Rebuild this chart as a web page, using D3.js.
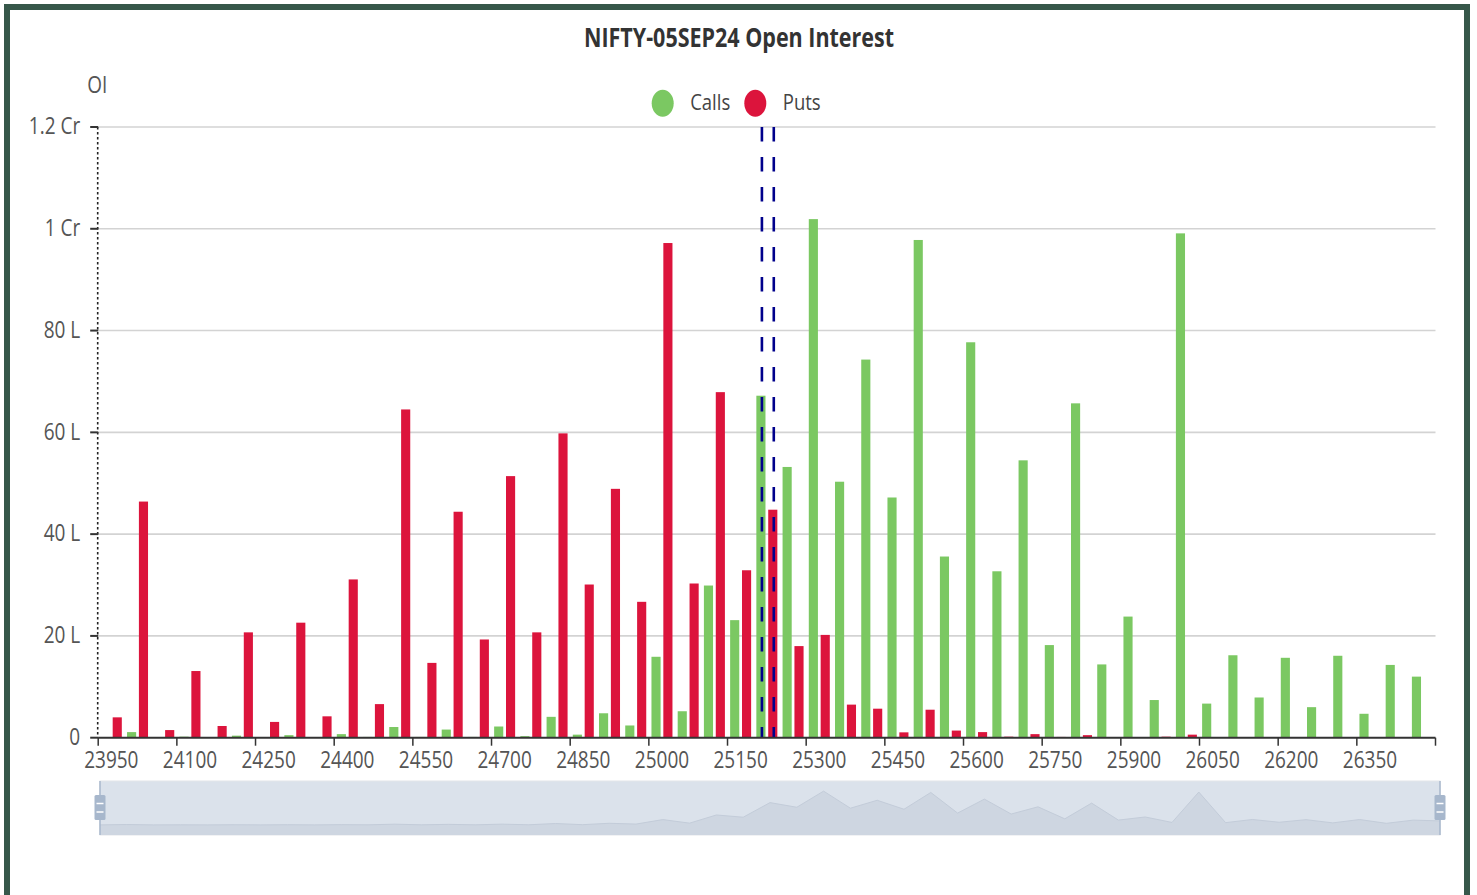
<!DOCTYPE html>
<html>
<head>
<meta charset="utf-8">
<script src="https://cdn.jsdelivr.net/npm/d3@7/dist/d3.min.js"></script>
<style>
  body { margin: 0; background: #fff; }
  text { font-family: "Open Sans", sans-serif; }
</style>
</head>
<body>
<div id="chart"></div>
<script>
// Strike prices (x categories)
const strikes = [23950, 24000, 24050, 24100, 24150, 24200, 24250, 24300, 24350, 24400,
  24450, 24500, 24550, 24600, 24650, 24700, 24750, 24800, 24850, 24900,
  24950, 25000, 25050, 25100, 25150, 25200, 25250, 25300, 25350, 25400,
  25450, 25500, 25550, 25600, 25650, 25700, 25750, 25800, 25850, 25900,
  25950, 26000, 26050, 26100, 26150, 26200, 26250, 26300, 26350, 26400, 26450];

// Open interest in lakhs
const callsOI = [0, 1.1, 0, 0.2, 0, 0.4, 0, 0.5, 0, 0.7,
  0.15, 2.1, 0.15, 1.6, 0.15, 2.2, 0.3, 4.1, 0.6, 4.8,
  2.4, 15.9, 5.2, 29.9, 23.1, 67.2, 53.2, 101.9, 50.3, 74.3,
  47.2, 97.8, 35.6, 77.7, 32.7, 54.5, 18.2, 65.7, 14.4, 23.8,
  7.4, 99.1, 6.7, 16.2, 7.9, 15.7, 6.0, 16.1, 4.7, 14.3, 12.0];

const putsOI = [4.0, 46.4, 1.5, 13.1, 2.3, 20.7, 3.1, 22.6, 4.2, 31.1,
  6.6, 64.5, 14.7, 44.4, 19.3, 51.4, 20.7, 59.8, 30.1, 48.9,
  26.7, 97.2, 30.3, 67.9, 32.9, 44.8, 18.0, 20.2, 6.5, 5.7,
  1.05, 5.5, 1.4, 1.1, 0.2, 0.7, 0.15, 0.5, 0.1, 0.1,
  0.2, 0.6, 0, 0.1, 0, 0, 0, 0, 0, 0, 0];

const yTicks = [0, 20, 40, 60, 80, 100, 120];
const seriesNames = ["Calls", "Puts"];
const seriesColors = ["#7bc862", "#dc143c"];
const atmStrike = 25200;
const chartTitle = "NIFTY-05SEP24 Open Interest";

const W = 1477, H = 895;
const stretch = 1.22;   // the picture is stretched vertically
const plot = {left: 98.2, right: 1435.5, top: 127, bottom: 737.7};

const svg = d3.select("#chart")
    .append("svg")
    .attr("width", W)
    .attr("height", H);

svg.append("rect").attr("width", W).attr("height", H).attr("fill", "#fff");

// text helper: stretched vertically like the reference
function addText(g, x, y, str, size, anchor, color, weight) {
    return g.append("text")
        .attr("transform", `translate(${x},${y}) scale(1,${stretch})`)
        .attr("text-anchor", anchor || "start")
        .attr("font-size", size)
        .attr("font-weight", weight || "normal")
        .attr("fill", color || "#555")
        .text(str);
}

// Scales
const xScale = d3.scaleBand()
    .domain(strikes)
    .range([plot.left, plot.right])
    .padding(0);

const subScale = d3.scaleBand()
    .domain(seriesNames)
    .range([0, xScale.bandwidth()])
    .paddingInner(0.231)
    .paddingOuter(0.22);

const yScale = d3.scaleLinear()
    .domain([0, 120])
    .range([plot.bottom, plot.top]);

const fmtY = v => v === 0 ? "0" : (v >= 100 ? (v / 100) + " Cr" : v + " L");

// Gridlines
svg.append("g")
    .selectAll("line")
    .data(yTicks.slice(1))
    .join("line")
    .attr("x1", plot.left)
    .attr("x2", plot.right)
    .attr("y1", d => yScale(d))
    .attr("y2", d => yScale(d))
    .attr("stroke", "#d3d3d3")
    .attr("stroke-width", 1.6);

// Y axis (dotted line, ticks, labels)
svg.append("line")
    .attr("x1", plot.left - 0.5).attr("x2", plot.left - 0.5)
    .attr("y1", plot.top).attr("y2", plot.bottom)
    .attr("stroke", "#222")
    .attr("stroke-width", 1.6)
    .attr("stroke-dasharray", "2.5,2.5");

const yAxisG = svg.append("g");
yAxisG.selectAll("line")
    .data(yTicks)
    .join("line")
    .attr("x1", plot.left - 8)
    .attr("x2", plot.left)
    .attr("y1", d => yScale(d))
    .attr("y2", d => yScale(d))
    .attr("stroke", "#333")
    .attr("stroke-width", 2);

yTicks.forEach(t => {
    addText(yAxisG, plot.left - 18, yScale(t) - 1, fmtY(t), 19, "end", "#555")
        .attr("dy", "0.36em");
});

addText(svg, plot.left - 1, 93, "OI", 19, "middle", "#555");

// Bars
const barGroups = svg.append("g")
    .selectAll("g")
    .data(strikes)
    .join("g")
    .attr("transform", d => `translate(${xScale(d)},0)`);

barGroups.selectAll("rect")
    .data((d, i) => [
        {name: seriesNames[0], value: callsOI[i], color: seriesColors[0]},
        {name: seriesNames[1], value: putsOI[i], color: seriesColors[1]}
    ])
    .join("rect")
    .attr("x", d => subScale(d.name))
    .attr("y", d => yScale(d.value))
    .attr("width", subScale.bandwidth())
    .attr("height", d => plot.bottom - yScale(d.value))
    .attr("fill", d => d.color);

// ATM markers (dashed)
svg.append("g")
    .selectAll("line")
    .data(seriesNames)
    .join("line")
    .attr("x1", d => xScale(atmStrike) + subScale(d) + subScale.bandwidth() / 2 + 1)
    .attr("x2", d => xScale(atmStrike) + subScale(d) + subScale.bandwidth() / 2 + 1)
    .attr("y1", plot.top)
    .attr("y2", plot.bottom)
    .attr("stroke", "#00008b")
    .attr("stroke-width", 2.6)
    .attr("stroke-dasharray", "14.5,15.5");

// X axis
const xAxisG = svg.append("g");
xAxisG.append("line")
    .attr("x1", plot.left).attr("x2", plot.right)
    .attr("y1", plot.bottom).attr("y2", plot.bottom)
    .attr("stroke", "#333")
    .attr("stroke-width", 2);

const labelIdx = strikes.map((s, i) => i).filter(i => i % 3 === 0);
const tickPos = labelIdx.map(i => xScale(strikes[i])).concat([plot.right]);

xAxisG.selectAll(".tick")
    .data(tickPos)
    .join("line")
    .attr("class", "tick")
    .attr("x1", d => d).attr("x2", d => d)
    .attr("y1", plot.bottom).attr("y2", plot.bottom + 8)
    .attr("stroke", "#333")
    .attr("stroke-width", 1.5);

labelIdx.forEach(i => {
    addText(xAxisG, xScale(strikes[i]) + xScale.bandwidth() / 2, plot.bottom + 30.6,
        strikes[i], 19, "middle", "#555");
});

// Title
addText(svg, 739, 46.7, chartTitle, 21.5, "middle", "#333", "bold");

// Legend
const legendX = [662.7, 755.3];
seriesNames.forEach((name, i) => {
    svg.append("ellipse")
        .attr("cx", legendX[i]).attr("cy", 103.3)
        .attr("rx", 11).attr("ry", 13.5)
        .attr("fill", seriesColors[i]);
    addText(svg, legendX[i] + 27.5, 109.5, name, 18.5, "start", "#444");
});

// Data zoom slider with calls shadow
const slider = {left: 100, right: 1440, top: 781, bottom: 835};
const sg = svg.append("g");

sg.append("rect")
    .attr("x", slider.left).attr("y", slider.top)
    .attr("width", slider.right - slider.left)
    .attr("height", slider.bottom - slider.top)
    .attr("fill", "#dbe2eb")
    .attr("stroke", "#e3e6ea")
    .attr("stroke-width", 1);

const ext = d3.extent(callsOI);
const pad = (ext[1] - ext[0]) * 0.3;
const sx = d3.scalePoint().domain(strikes).range([slider.left, slider.right]);
const sy = d3.scaleLinear()
    .domain([ext[0] - pad, ext[1] + pad])
    .range([slider.bottom, slider.top]);

sg.append("path")
    .datum(callsOI)
    .attr("d", d3.area()
        .x((d, i) => sx(strikes[i]))
        .y0(slider.bottom)
        .y1(d => sy(d)))
    .attr("fill", "#ced6e1");

sg.append("path")
    .datum(callsOI)
    .attr("d", d3.line()
        .x((d, i) => sx(strikes[i]))
        .y(d => sy(d)))
    .attr("fill", "none")
    .attr("stroke", "#c3ccd9")
    .attr("stroke-width", 1);

[slider.left, slider.right].forEach(hx => {
    sg.append("line")
        .attr("x1", hx).attr("x2", hx)
        .attr("y1", slider.top).attr("y2", slider.bottom)
        .attr("stroke", "#a7b7cc")
        .attr("stroke-width", 1.5);
    sg.append("rect")
        .attr("x", hx - 5.5).attr("y", 795)
        .attr("width", 11).attr("height", 25)
        .attr("rx", 1.5)
        .attr("fill", "#a7b7cc");
    [803.5, 812].forEach(ly => {
        sg.append("line")
            .attr("x1", hx - 3.5).attr("x2", hx + 3.5)
            .attr("y1", ly).attr("y2", ly)
            .attr("stroke", "#fff")
            .attr("stroke-width", 1.5);
    });
});

// Frame
svg.append("rect")
    .attr("x", 7).attr("y", 7)
    .attr("width", 1460).attr("height", 892)
    .attr("fill", "none")
    .attr("stroke", "#36574a")
    .attr("stroke-width", 6);
</script>
</body>
</html>
